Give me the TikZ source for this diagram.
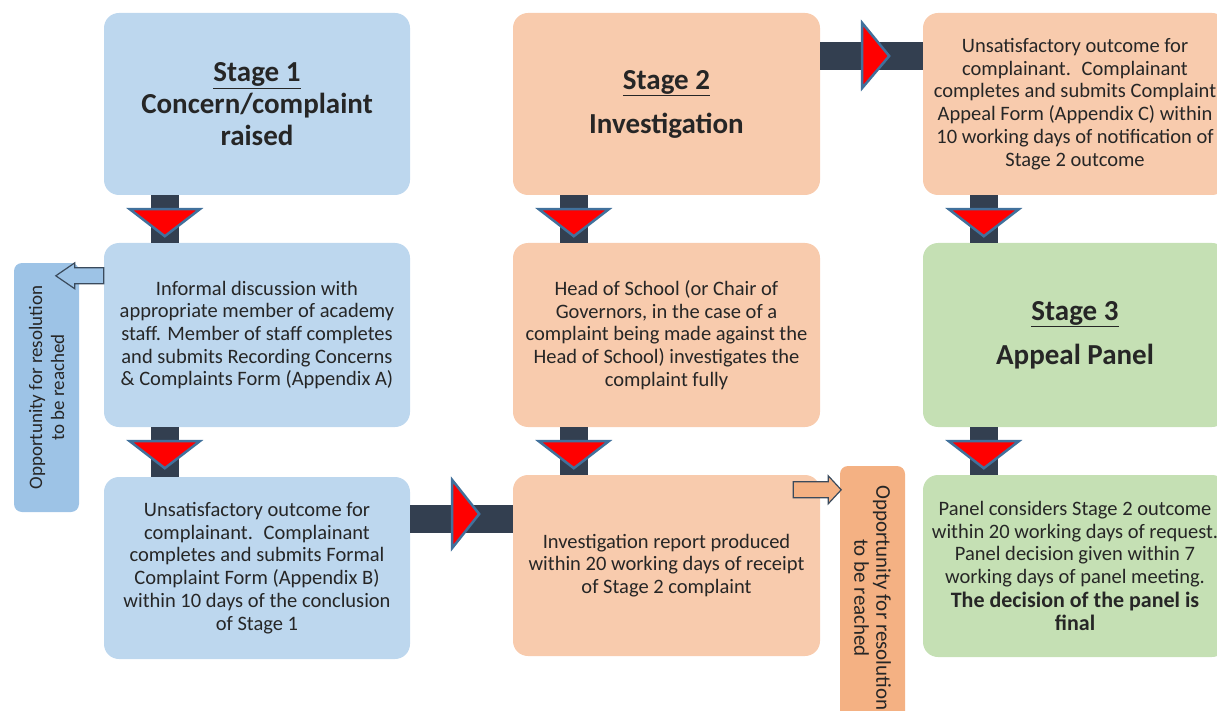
\documentclass[tikz,border=0pt]{standalone}
\usepackage{fontspec}
\setmainfont{Carlito}
\definecolor{bluebox}{HTML}{BDD7EE}
\definecolor{blueside}{HTML}{9DC3E6}
\definecolor{orangebox}{HTML}{F8CBAD}
\definecolor{orangeside}{HTML}{F4B183}
\definecolor{greenbox}{HTML}{C5E0B4}
\definecolor{barcol}{HTML}{333F50}
\definecolor{tribord}{HTML}{41719C}
\definecolor{txt}{HTML}{262626}
\definecolor{hollowbord}{HTML}{3A4A5C}
\begin{document}
\begin{tikzpicture}[x=1pt,y=-1pt,
  box/.style={rounded corners=15pt, inner sep=0pt, align=center, text=txt,
    font=\fontsize{20.5}{22.7}\selectfont},
  title/.style={font=\fontsize{29}{32}\selectfont\bfseries},
  bluestage/.style={box, fill=bluebox, minimum width=306pt},
  orangestage/.style={box, fill=orangebox, minimum width=307pt},
  greenstage/.style={box, fill=greenbox, minimum width=304pt},
  side/.style={rounded corners=8pt, inner sep=0pt, align=center, text=txt,
    minimum height=65pt},
  bar/.style={line width=28pt, draw=barcol},
  tri/.style={fill=red, draw=tribord, line width=2.5pt, line join=miter},
  hollow/.style={draw=hollowbord, line width=1.2pt}
]
\useasboundingbox (0,0) rectangle (1217,711);
\clip (0,0) rectangle (1217,711);

% column 1
\node[bluestage, title, minimum height=182pt] (a1) at (257,104)
  {\underline{Stage 1}\\Concern/complaint\\raised};
\node[bluestage, minimum height=184pt] (a2) at (257,335)
  {Informal discussion with\\appropriate member of academy\\staff. Member of staff completes\\and submits Recording Concerns\\\& Complaints Form (Appendix A)};
\node[bluestage, minimum height=182pt] (a3) at (257,568)
  {Unsatisfactory outcome for\\complainant.~ Complainant\\completes and submits Formal\\Complaint Form (Appendix B)\\within 10 days of the conclusion\\of Stage 1};

% column 2
\node[orangestage, title, minimum height=182pt] (b1) at (666.5,104)
  {\underline{Stage 2}\\[12pt]Investigation};
\node[orangestage, minimum height=184pt] (b2) at (666.5,335)
  {Head of School (or Chair of\\Governors, in the case of a\\complaint being made against the\\Head of School) investigates the\\complaint fully};
\node[orangestage, minimum height=181pt] (b3) at (666.5,565.5)
  {Investigation report produced\\within 20 working days of receipt\\of Stage 2 complaint};

% column 3
\node[orangestage, minimum width=304pt, minimum height=182pt] (c1) at (1075,104)
  {Unsatisfactory outcome for\\complainant.~ Complainant\\completes and submits Complaint\\Appeal Form (Appendix C) within\\10 working days of notification of\\Stage 2 outcome};
\node[greenstage, title, minimum height=184pt] (c2) at (1075,335)
  {\underline{Stage 3}\\[12pt]Appeal Panel};
\node[greenstage, minimum height=182pt] (c3) at (1075,566)
  {Panel considers Stage 2 outcome\\within 20 working days of request.\\Panel decision given within 7\\working days of panel meeting.\\[1.5pt]{\fontsize{22}{24}\selectfont\bfseries The decision of the panel is}\\{\fontsize{22}{24}\selectfont\bfseries final}};

% side labels
\node[side, fill=blueside, rotate=90, minimum width=249pt,
  font=\fontsize{19}{22}\selectfont] (sl) at (46.5,387.5)
  {Opportunity for resolution\\to be reached};
\node[side, fill=orangeside, rotate=-90, minimum width=264pt,
  font=\fontsize{21}{22}\selectfont] (sr) at (872.5,598)
  {Opportunity for resolution\\to be reached};

% vertical connectors
\foreach \u/\v in {a1/a2, a2/a3, b1/b2, b2/b3, c1/c2, c2/c3} {
  \draw[bar] ([xshift=61pt]\u.south west) -- ([xshift=61pt]\v.north west);
  \filldraw[tri] ([xshift=26pt,yshift=-14pt]\u.south west) -- ++(70,0) -- ++(-35,27) -- cycle;
}

% horizontal connectors
\draw[bar] ([yshift=49pt]a3.east) -- ([yshift=49pt]a3.east -| b3.west);
\filldraw[tri] ([xshift=42pt,yshift=88pt]a3.east) -- ++(0,68) -- ++(27,-34) -- cycle;
\draw[bar] ([yshift=47.5pt]b1.east) -- ([yshift=47.5pt]b1.east -| c1.west);
\filldraw[tri] ([xshift=42pt,yshift=81pt]b1.east) -- ++(0,65) -- ++(27,-32) -- cycle;

% small hollow arrows
\filldraw[hollow, fill=blueside] ([yshift=-25pt]a2.north west) -- ++(-29,0) -- ++(0,-5)
  -- ++(-19,13) -- ++(19,13) -- ++(0,-5) -- ++(29,0) -- cycle;
\filldraw[hollow, fill=orangeside] ([xshift=-27pt,yshift=-7pt]b3.north east) -- ++(35,0) -- ++(0,-6)
  -- ++(13,14) -- ++(-13,14) -- ++(0,-6) -- ++(-35,0) -- cycle;
\end{tikzpicture}
\end{document}
